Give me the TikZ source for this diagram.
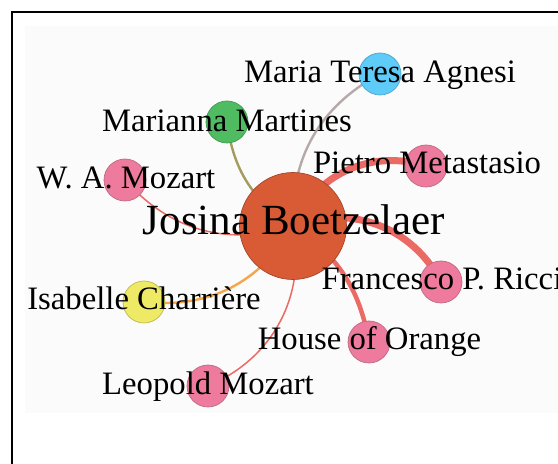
\documentclass[tikz,border=0pt]{standalone}
\usepackage{fontspec}
\setmainfont{Liberation Serif}
\usetikzlibrary{backgrounds}

\definecolor{panel}{HTML}{FBFBFB}
\definecolor{hubfill}{HTML}{D95B35}
\definecolor{hubline}{HTML}{A4472B}
\definecolor{pinkfill}{HTML}{EE7B9D}
\definecolor{pinkline}{HTML}{BC6A80}
\definecolor{greenfill}{HTML}{4FBC62}
\definecolor{greenline}{HTML}{3F9A4F}
\definecolor{bluefill}{HTML}{5FCBF8}
\definecolor{blueline}{HTML}{4AA6CF}
\definecolor{yellowfill}{HTML}{EFEA66}
\definecolor{yellowline}{HTML}{BDB852}
\definecolor{redlink}{HTML}{EB6A64}
\definecolor{greylink}{HTML}{B8A9A9}
\definecolor{olivelink}{HTML}{A39C5C}
\definecolor{orangelink}{HTML}{F4A64A}

\begin{document}
\begin{tikzpicture}[x=1pt,y=1pt,
  person/.style={circle, draw, line width=0.7pt, inner sep=0pt, minimum size=42pt},
  pinkp/.style={person, fill=pinkfill, draw=pinkline},
  personlabel/.style={anchor=base, inner sep=0pt, text=black,
    font=\fontsize{32.7}{36}\selectfont},
  link/.style={line cap=round}]
\useasboundingbox (0,0) rectangle (558,464);
\clip (0,0) rectangle (558,464);

% panel and frame
\begin{scope}[on background layer]
  \fill[panel] (25,51) rectangle (558,438);
  \draw[line width=2pt] (12,0) -- (12,452) -- (558,452);
\end{scope}

% people
\node[person, fill=hubfill, draw=hubline, minimum size=107pt] (J) at (293,238) {};
\node[person, fill=bluefill, draw=blueline] (MT) at (380,390) {};
\node[person, fill=greenfill, draw=greenline] (MM) at (227,342) {};
\node[pinkp] (WAM) at (125,284) {};
\node[pinkp] (PM) at (426,298) {};
\node[pinkp] (FR) at (441,182) {};
\node[pinkp] (HO) at (369,122) {};
\node[person, fill=yellowfill, draw=yellowline] (IC) at (144,162) {};
\node[pinkp] (LM) at (208,78) {};

% connections, all curving the same way
\begin{scope}[on background layer]
  \draw[link, greylink, line width=2.4pt] (J.center) to[bend left=32] (MT.center);
  \draw[link, olivelink, line width=2.4pt] (J.center) to[bend left=25] (MM.center);
  \draw[link, redlink, line width=1.5pt] (J.center) to[bend left=33] (WAM.center);
  \draw[link, redlink, line width=7pt] (J.center) to[bend left=42] (PM.center);
  \draw[link, redlink, line width=7pt] (J.center) to[bend left=42] (FR.center);
  \draw[link, redlink, line width=4.5pt] (J.center) to[bend left=23] (HO.center);
  \draw[link, orangelink, line width=2.4pt] (J.center) to[bend left=33] (IC.center);
  \draw[link, redlink, line width=1.5pt] (J.center) to[bend left=39] (LM.center);
\end{scope}

% names
\node[personlabel, font=\fontsize{43}{48}\selectfont] (tJ) at (294,229) {Josina Boetzelaer};
\node[personlabel] (tMT) at (380,381) {Maria Teresa Agnesi};
\node[personlabel] (tMM) at (227,332) {Marianna Martines};
\node[personlabel] (tWAM) at (126,275) {W. A. Mozart};
\node[personlabel] (tPM) at (427,290) {Pietro Metastasio};
\node[personlabel] (tFR) at (442,174) {Francesco P. Ricci};
\node[personlabel] (tHO) at (369.5,114) {House of Orange};
\node[personlabel] (tIC) at (144,154) {Isabelle Charrière};
\node[personlabel] (tLM) at (208,69) {Leopold Mozart};
\end{tikzpicture}
\end{document}
